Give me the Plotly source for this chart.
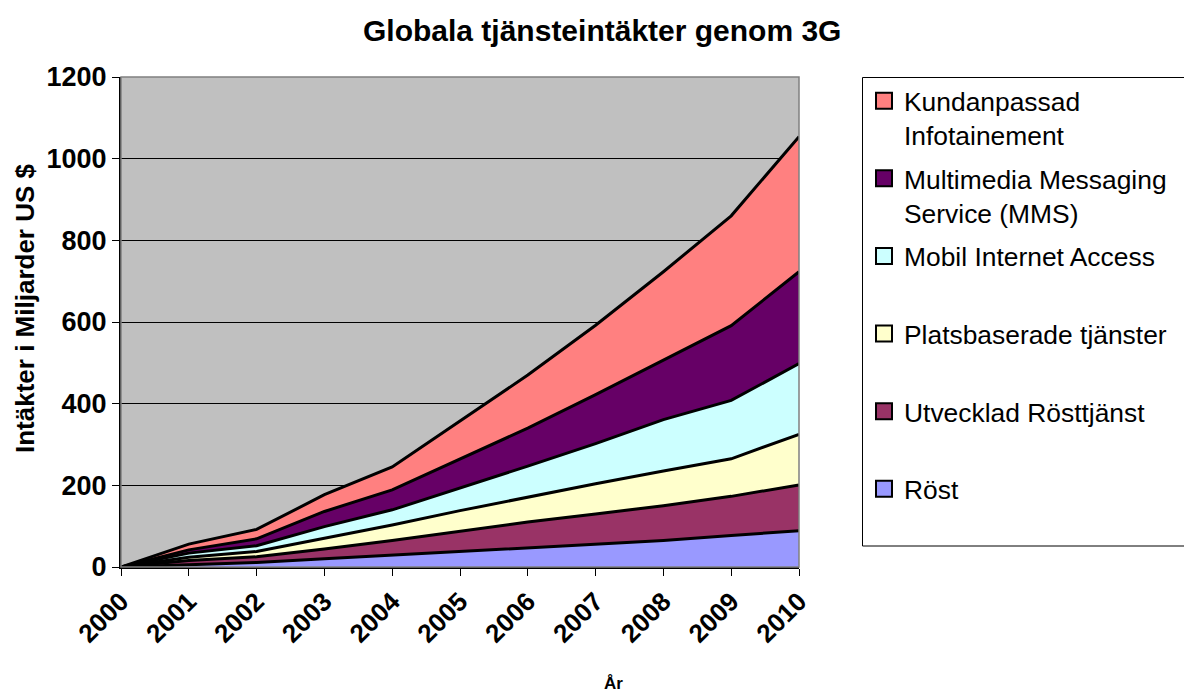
import plotly.graph_objects as go

years = [2000, 2001, 2002, 2003, 2004, 2005, 2006, 2007, 2008, 2009, 2010]

# Revenue per service, billions of USD (stacked bottom to top)
rost = [0, 6, 11, 20, 29, 38, 47, 56, 65, 77, 89]
utvecklad_rost = [0, 10, 14, 24, 36, 50, 63, 74, 85, 96, 112]
platsbaserade = [0, 8, 13, 26, 38, 50, 61, 74, 85, 92, 124]
mobil_internet = [0, 10, 14, 29, 37, 55, 76, 98, 126, 143, 173]
mms = [0, 8, 17, 37, 49, 72, 93, 120, 145, 183, 225]
infotainment = [0, 14, 23, 41, 56, 92, 130, 170, 217, 269, 331]

series_names = [
    "Röst",
    "Utvecklad Rösttjänst",
    "Platsbaserade tjänster",
    "Mobil Internet Access",
    "Multimedia Messaging Service (MMS)",
    "Kundanpassad Infotainement",
]
legend_labels = [
    "Röst<br> ",
    "Utvecklad Rösttjänst<br> ",
    "Platsbaserade tjänster<br> ",
    "Mobil Internet Access<br> ",
    "Multimedia Messaging<br>Service (MMS)",
    "Kundanpassad<br>Infotainement",
]
series_values = [rost, utvecklad_rost, platsbaserade, mobil_internet, mms, infotainment]
colors = ["#9999FF", "#993366", "#FFFFCC", "#CCFFFF", "#660066", "#FF8080"]

y_ticks = [0, 200, 400, 600, 800, 1000, 1200]

FONT = "Liberation Sans, Arial, sans-serif"

fig = go.Figure()

# Stacked areas
for name, vals, col in zip(series_names, series_values, colors):
    fig.add_trace(go.Scatter(
        x=years, y=vals, name=name, stackgroup="one", mode="lines",
        line=dict(color="black", width=3), fillcolor=col,
        showlegend=False, hoverinfo="x+y+name",
    ))

# Square legend keys, listed top series first
for i in reversed(range(len(series_names))):
    fig.add_trace(go.Scatter(
        x=[None], y=[None], mode="markers", name=legend_labels[i],
        legendgroup=f"g{i}",
        marker=dict(symbol="square", size=16, color=colors[i],
                    line=dict(color="black", width=2)),
    ))

L, R, T, B = 121, 385, 77, 128
W, H = 1184, 695
pw, ph = W - L - R, H - T - B

def px(x):
    return (x - L) / pw

def py(y):
    return (H - B - y) / ph

fig.update_layout(
    width=W, height=H, autosize=False,
    margin=dict(l=L, r=R, t=T, b=B),
    paper_bgcolor="white", plot_bgcolor="#C0C0C0",
    font=dict(family=FONT, color="black"),
    showlegend=True,
    legend=dict(
        x=px(864), y=py(77), xanchor="left", yanchor="top",
        xref="paper", yref="paper",
        bgcolor="rgba(0,0,0,0)", borderwidth=0,
        font=dict(size=26.4, family=FONT, color="black"),
        valign="top", tracegroupgap=6, traceorder="grouped",
    ),
    xaxis=dict(
        range=[2000, 2010], tickvals=years, ticktext=[str(y) for y in years],
        tickangle=-45, ticks="outside", ticklen=7, tickcolor="black", tickwidth=1,
        tickfont=dict(size=26, family=FONT, weight="bold"),
        showline=True, linecolor="black", linewidth=2, showgrid=False,
        zeroline=False, fixedrange=True,
    ),
    yaxis=dict(
        range=[0, 1200], tickvals=y_ticks,
        ticks="outside", ticklen=7, tickcolor="black", tickwidth=1,
        tickfont=dict(size=27, family=FONT, weight="bold"),
        showline=True, linecolor="black", linewidth=2,
        showgrid=True, gridcolor="black", gridwidth=1,
        zeroline=False, fixedrange=True,
    ),
    shapes=[
        # plot-area frame
        dict(type="rect", xref="paper", yref="paper", x0=0, x1=1, y0=0, y1=1,
             line=dict(color="#808080", width=1.5), layer="above"),
        # legend frame, running off the right edge of the page
        dict(type="rect", xref="paper", yref="paper",
             x0=px(862.5), x1=px(1200), y0=py(546), y1=py(77.5),
             line=dict(color="black", width=1), fillcolor="rgba(0,0,0,0)",
             layer="below"),
    ],
    annotations=[
        dict(text="<b>Globala tjänsteintäkter genom 3G</b>", xref="paper", yref="paper",
             x=px(602), y=py(31), xanchor="center", yanchor="middle", showarrow=False,
             font=dict(size=30, family=FONT)),
        dict(text="<b>Intäkter i Miljarder US $</b>", xref="paper", yref="paper",
             x=px(25), y=py(308), xanchor="center", yanchor="middle", showarrow=False,
             textangle=-90, font=dict(size=26, family=FONT)),
        dict(text="<b>År</b>", xref="paper", yref="paper",
             x=px(613), y=py(683), xanchor="center", yanchor="middle", showarrow=False,
             font=dict(size=17, family=FONT)),
    ],
)

fig.write_html("out.html")
